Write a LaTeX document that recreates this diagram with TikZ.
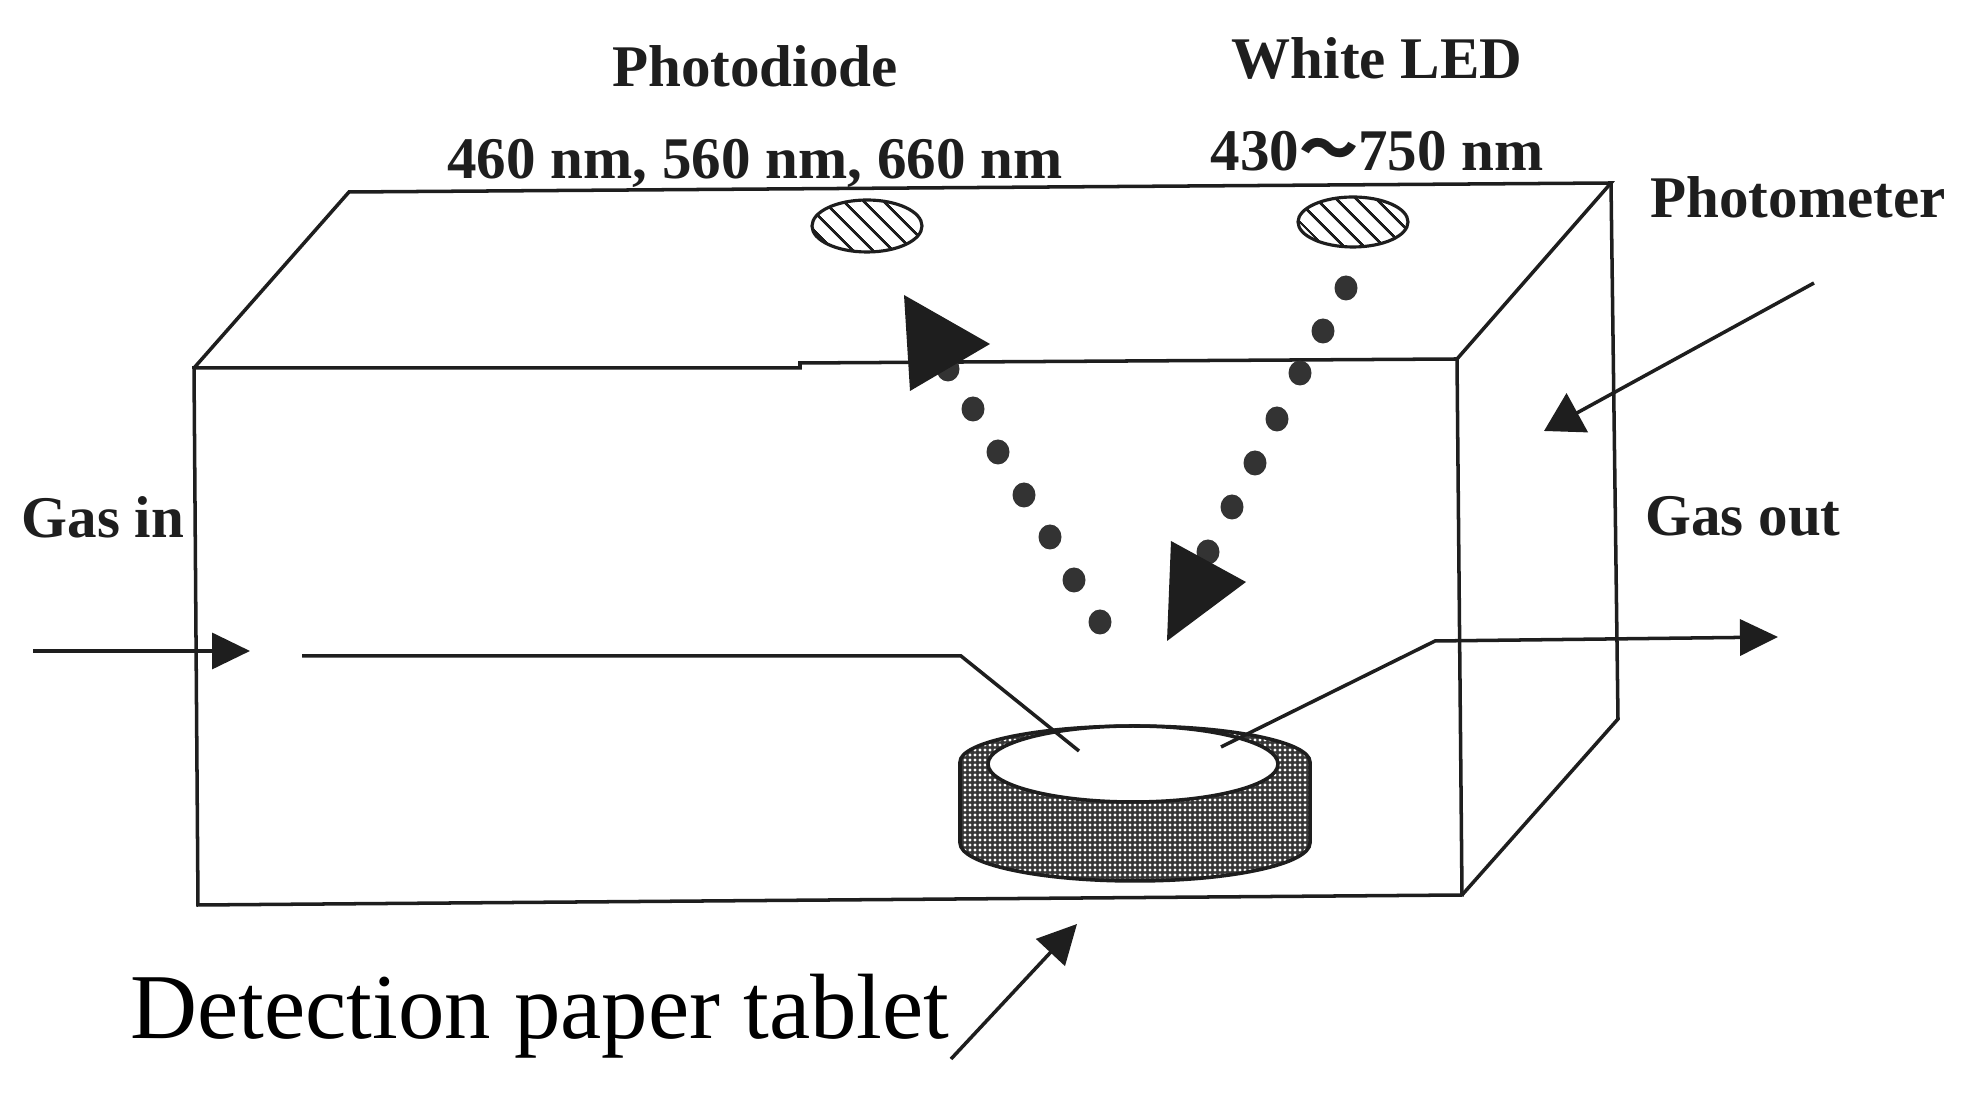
\documentclass[tikz,border=0pt]{standalone}
\usepackage{fontspec}
\setmainfont{Liberation Serif}
\newfontfamily\cjk{Noto Sans CJK SC}
\usetikzlibrary{arrows.meta, patterns.meta, shapes.geometric}
\definecolor{inkdark}{HTML}{1E1E1E}
\definecolor{dotgray}{HTML}{333333}

\begin{document}
\begin{tikzpicture}[
  x=0.1mm, y=-0.1mm,
  every node/.style={font=\fontsize{16.8}{20}\selectfont\bfseries, text=inkdark, inner sep=0pt},
  edgeline/.style={draw=inkdark, line width=1pt},
  flowarrow/.style={edgeline, -{Triangle[length=3.8mm, width=3.6mm]}},
  bigtip/.style={fill=inkdark},
  lightdot/.style={ellipse, fill=dotgray, minimum width=2.3mm, minimum height=2.5mm, draw=none},
  lamp/.style={draw=inkdark, line width=0.9pt, pattern={Lines[angle=-45, distance=1.4mm, line width=0.8pt]}, pattern color=inkdark},
]
\useasboundingbox (0,0) rectangle (1963,1100);

% labels
\node (diodelabel) at (755,66) {Photodiode};
\node (bandlabel) at (755,163) {460 nm, 560 nm, 660 nm};
\node (ledlabel) at (1377,58) {White LED};
\node (rangelabel) at (1377,151) {430{\cjk ～}750 nm};
\node (meterlabel) at (1798,197) {Photometer};
\node (gasinlabel) at (103,517) {Gas in};
\node (gasoutlabel) at (1743,516) {Gas out};
\node[font=\fontsize{26.4}{30}\selectfont, text=black] (tabletlabel) at (540,1016) {Detection paper tablet};

% box corners
\coordinate (ftl) at (194,368);
\coordinate (ftm) at (800,368);
\coordinate (ftn) at (800,363);
\coordinate (ftr) at (1457,359);
\coordinate (fbr) at (1462,895);
\coordinate (fbl) at (198,905);
\coordinate (btl) at (349,192);
\coordinate (btr) at (1611,183);
\coordinate (bbr) at (1618,719);

\draw[edgeline] (ftl) -- (ftm) -- (ftn) -- (ftr) -- (fbr) -- (fbl) -- cycle;
\draw[edgeline] (ftl) -- (btl) -- (btr) -- (ftr);
\draw[edgeline] (btr) -- (bbr) -- (fbr);

% lamps
\path[lamp] (867,226) ellipse [x radius=55, y radius=26];
\path[lamp] (1353,222) ellipse [x radius=55, y radius=25];

% tablet
\path[fill=black!78] (960,762) -- (960,843) arc[start angle=180, end angle=0, x radius=175, y radius=38] -- (1310,762) arc[start angle=0, end angle=-180, x radius=175, y radius=36] -- cycle;
\path[pattern={Dots[distance=0.5mm, radius=0.16mm]}, pattern color=white] (960,762) -- (960,843) arc[start angle=180, end angle=0, x radius=175, y radius=38] -- (1310,762) arc[start angle=0, end angle=-180, x radius=175, y radius=36] -- cycle;
\draw[edgeline] (960,762) -- (960,843) arc[start angle=180, end angle=0, x radius=175, y radius=38] -- (1310,762) arc[start angle=0, end angle=-180, x radius=175, y radius=36] -- cycle;
\draw[edgeline, fill=white] (1133,764) ellipse [x radius=145, y radius=38];

% light path
\foreach \px/\py [count=\i] in {948/369, 973/409, 998/452, 1024/495, 1050/537, 1074/580, 1100/622} {
  \node[lightdot] (downdot\i) at (\px,\py) {};
}
\foreach \px/\py [count=\i] in {1346/288, 1323/331, 1300/373, 1277/419, 1255/463, 1232/507, 1208/552} {
  \node[lightdot] (updot\i) at (\px,\py) {};
}
\fill[bigtip] (904,295) -- (990,344) -- (910,391) -- cycle;
\fill[bigtip] (1171,541) -- (1246,582) -- (1167,641) -- cycle;

% gas flow
\coordinate (gasstart) at (33,651);
\coordinate (gasarrow) at (250,651);
\coordinate (linestart) at (302,656);
\coordinate (linebend) at (961,656);
\coordinate (lineend) at (1079,751);
\coordinate (outstart) at (1221,747);
\coordinate (outbend) at (1435,641);
\coordinate (outarrow) at (1778,637);
\draw[flowarrow] (gasstart) -- (gasarrow);
\draw[edgeline] (linestart) -- (linebend) -- (lineend);
\draw[flowarrow] (outstart) -- (outbend) -- (outarrow);

% pointers
\coordinate (metertail) at (1814,283);
\coordinate (metertip) at (1544,431);
\coordinate (tablettail) at (951,1059);
\coordinate (tablettip) at (1077,924);
\draw[edgeline, -{Triangle[length=3.8mm, width=4.4mm]}] (metertail) -- (metertip);
\draw[edgeline, -{Triangle[length=3.9mm, width=3.9mm]}] (tablettail) -- (tablettip);
\end{tikzpicture}
\end{document}
